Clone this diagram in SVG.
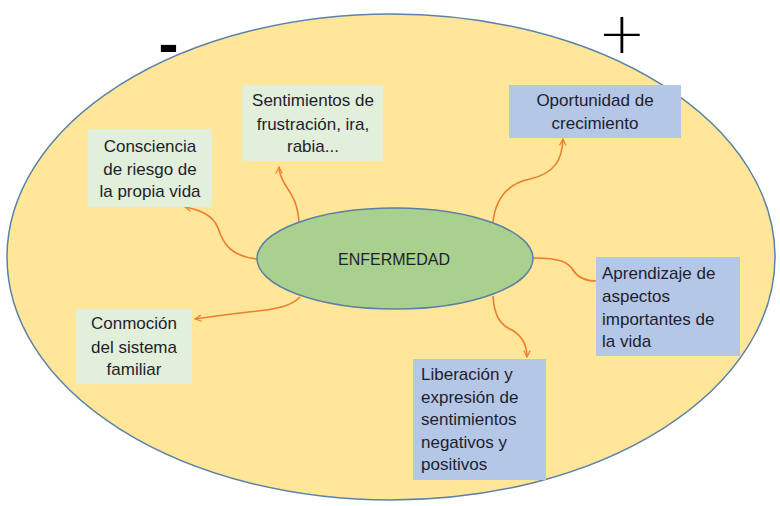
<svg xmlns="http://www.w3.org/2000/svg" width="780" height="506" viewBox="0 0 780 506">
<style>
.t{font-family:"Liberation Sans",Arial,sans-serif;font-size:17px;fill:#1e1e2e}
.c{text-anchor:middle}
.g{fill:#e2efda}
.b{fill:#b4c7e7}
.con{fill:none;stroke:#ed7d31;stroke-width:1.6}
</style>
<defs>
<marker id="arr" viewBox="0 0 10 10" refX="9" refY="5" markerWidth="8" markerHeight="8" orient="auto" markerUnits="userSpaceOnUse">
<path d="M1,1 L9,5 L1,9" fill="none" stroke="#ed7d31" stroke-width="1.5"/>
</marker>
</defs>
<rect width="780" height="506" fill="#ffffff"/>
<g id="outer">
<ellipse cx="391" cy="257" rx="384" ry="243" fill="#ffe699" stroke="#5b82a8" stroke-width="1.5"/>
</g>
<g id="signs">
<text x="168.5" y="64" text-anchor="middle" style="font-family:'Liberation Sans',Arial,sans-serif;font-weight:bold;font-size:60px;fill:#000">-</text>
<text x="622" y="53" text-anchor="middle" style="font-family:'DejaVu Sans',sans-serif;font-weight:200;font-size:57px;fill:#000">+</text>
</g>
<g id="connectors">
<path class="con" d="M257,259 C228,256 222,240 218,228 C213,215 200,210 185,207" marker-end="url(#arr)"/>
<path class="con" d="M299,224 C298,202 291,194 286,186 C281,178 279,172 279,167" marker-end="url(#arr)"/>
<path class="con" d="M493,222 C496,196 510,183 530,179 C555,173 562,160 563,139" marker-end="url(#arr)"/>
<path class="con" d="M533,258 C560,258 568,262 573,270 C578,278 585,281 596,281"/>
<path class="con" d="M493,296 C494,315 500,325 512,330 C522,336 527,345 527,357" marker-end="url(#arr)"/>
<path class="con" d="M300,297 C290,308 270,310 240,313 C215,316 202,318 195,319" marker-end="url(#arr)"/>
</g>
<g id="enfermedad">
<ellipse cx="395" cy="258.5" rx="138" ry="50.5" fill="#a9d08e" stroke="#5b7fa6" stroke-width="1.5"/>
<text class="t c" x="394" y="265" style="font-size:16px">ENFERMEDAD</text>
</g>
<g id="consciencia">
<rect class="g" x="88" y="129" width="124" height="78"/>
<text class="t c" x="150" y="152">Consciencia</text>
<text class="t c" x="150" y="175">de riesgo de</text>
<text class="t c" x="150" y="197">la propia vida</text>
</g>
<g id="sentimientos">
<rect class="g" x="242" y="85" width="141" height="76"/>
<text class="t c" x="313" y="106">Sentimientos de</text>
<text class="t c" x="313" y="130">frustración, ira,</text>
<text class="t c" x="313" y="152">rabia...</text>
</g>
<g id="oportunidad">
<rect class="b" x="509" y="85" width="172" height="53"/>
<text class="t c" x="595" y="106">Oportunidad de</text>
<text class="t c" x="595" y="129">crecimiento</text>
</g>
<g id="aprendizaje">
<rect class="b" x="596" y="257" width="144" height="99"/>
<text class="t" x="602" y="279">Aprendizaje de</text>
<text class="t" x="602" y="302">aspectos</text>
<text class="t" x="602" y="325">importantes de</text>
<text class="t" x="602" y="347">la vida</text>
</g>
<g id="liberacion">
<rect class="b" x="413" y="359" width="133" height="121"/>
<text class="t" x="421" y="380">Liberación y</text>
<text class="t" x="421" y="403">expresión de</text>
<text class="t" x="421" y="425">sentimientos</text>
<text class="t" x="421" y="448">negativos y</text>
<text class="t" x="421" y="470">positivos</text>
</g>
<g id="conmocion">
<rect class="g" x="76" y="309" width="116" height="75"/>
<text class="t c" x="134" y="329">Conmoción</text>
<text class="t c" x="134" y="353">del sistema</text>
<text class="t c" x="134" y="375">familiar</text>
</g>
</svg>
